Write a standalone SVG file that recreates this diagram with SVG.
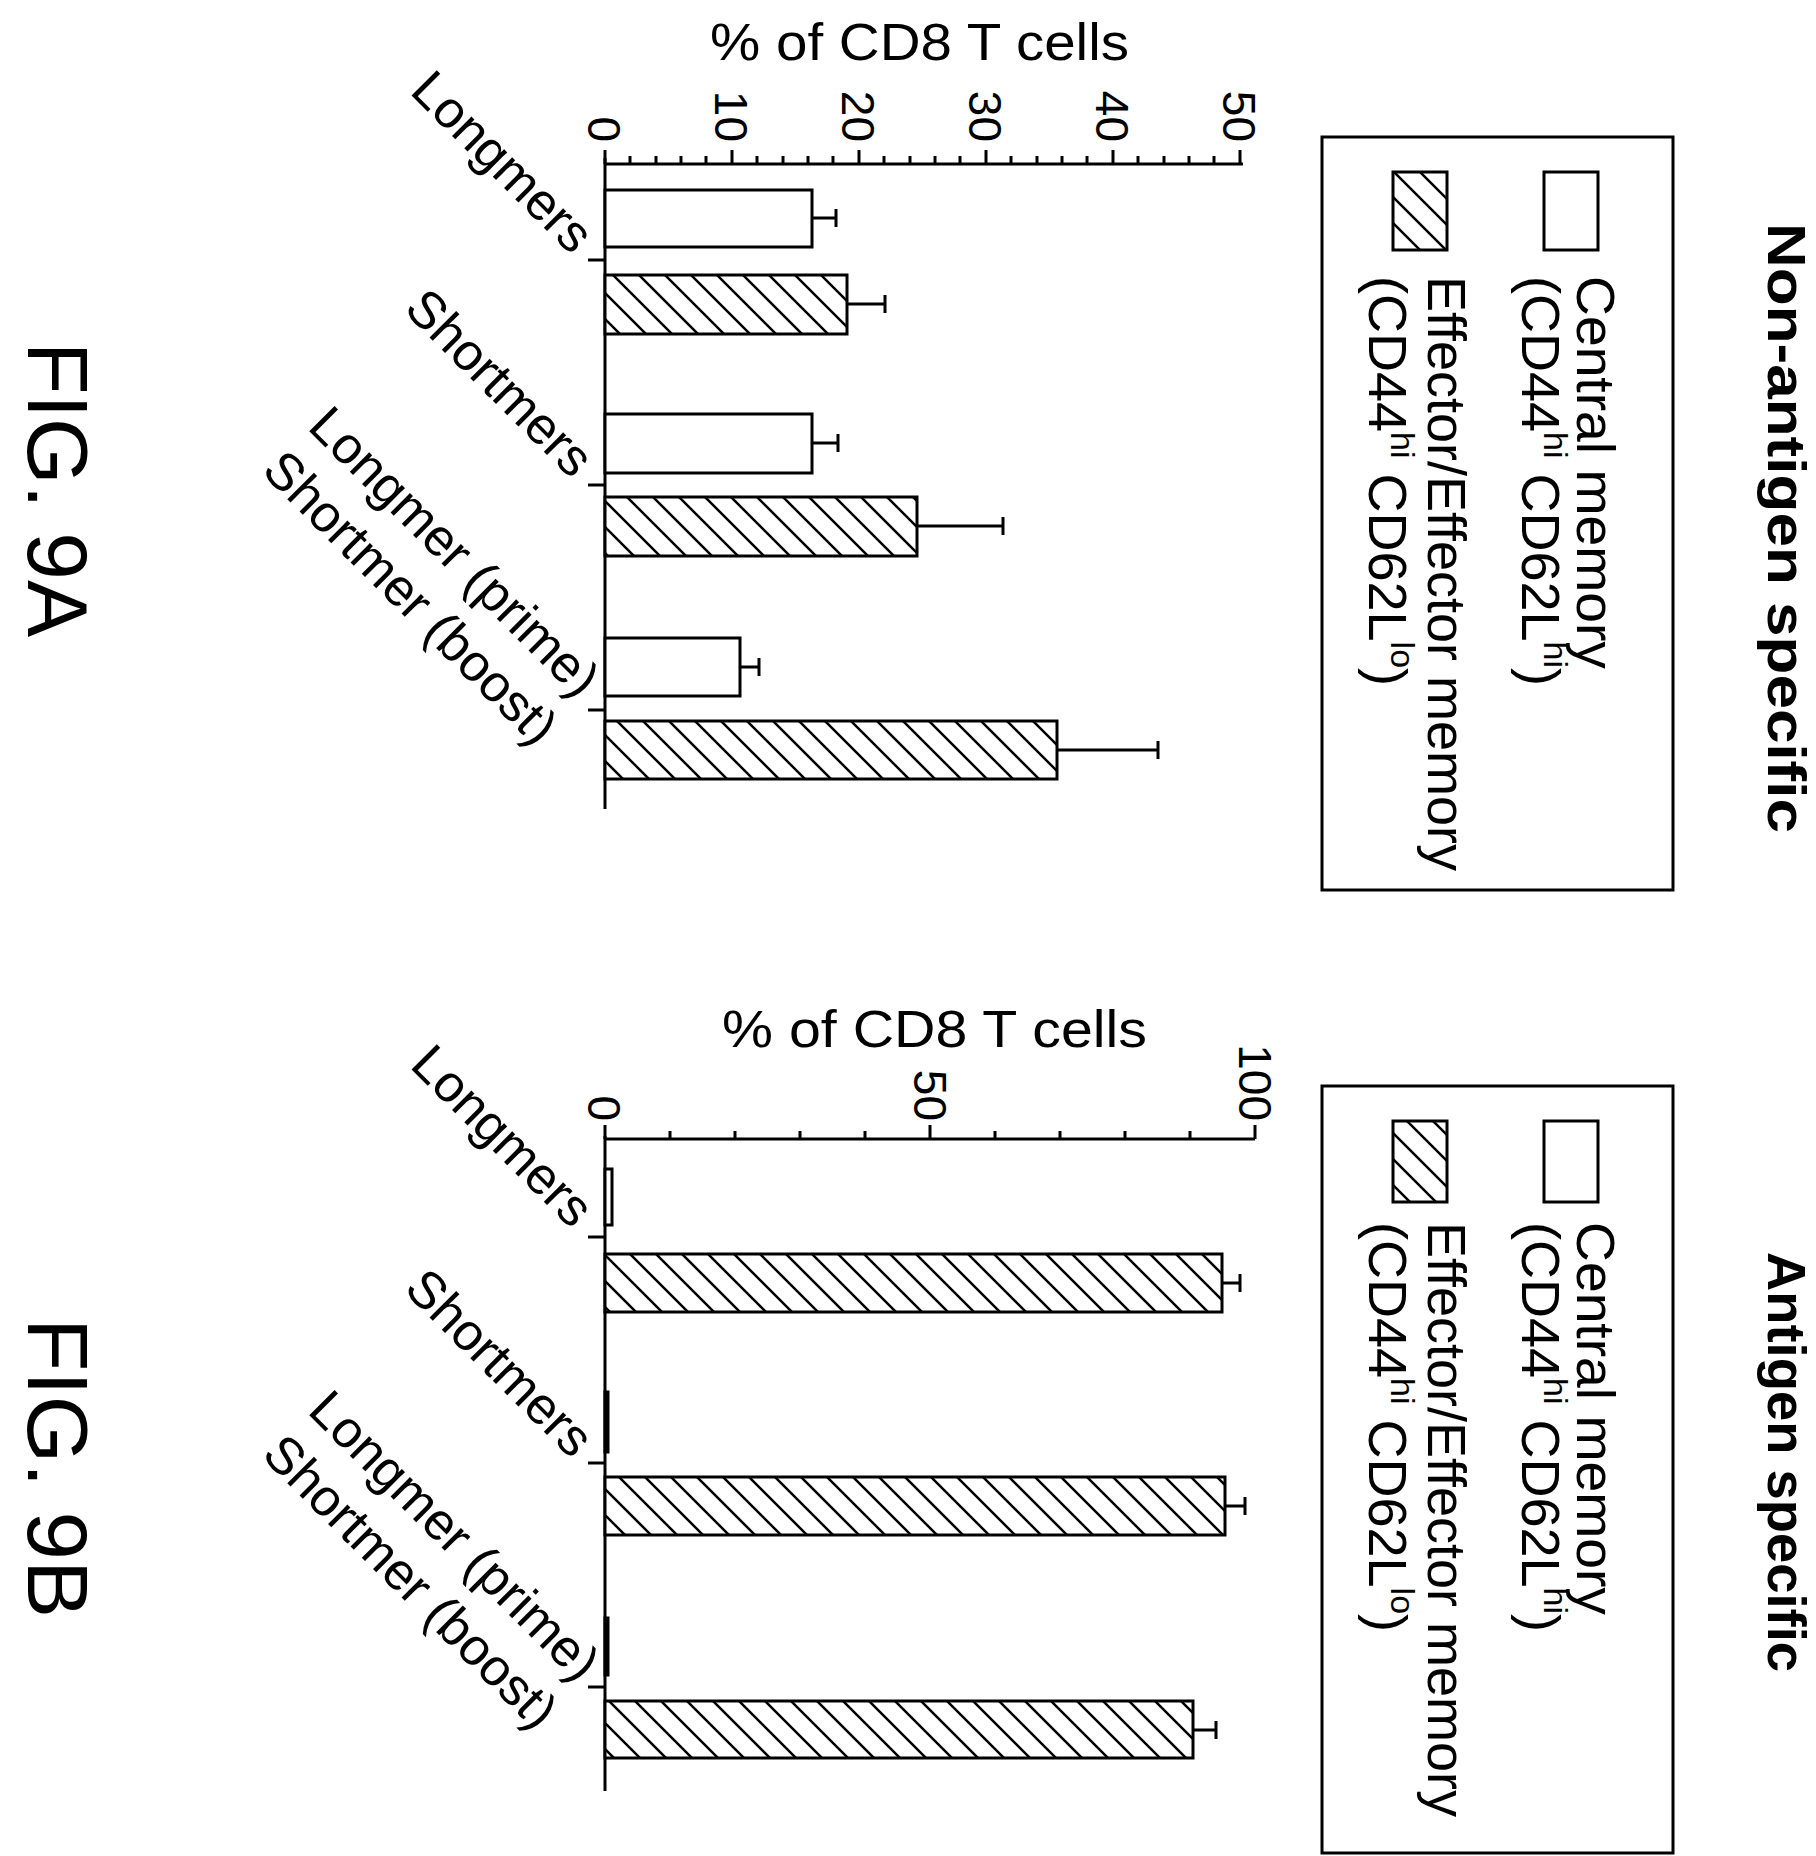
<svg xmlns="http://www.w3.org/2000/svg" width="1816" height="1856" viewBox="0 0 1816 1856">
<style>
text{font-family:"Liberation Sans",Arial,sans-serif;fill:#000}
.ax{stroke:#000;stroke-width:3;fill:none}
.bar{stroke:#000;stroke-width:3;fill:#fff}
.hb{stroke:#000;stroke-width:3;fill:url(#hatch)}
.lg{font-size:54px}
.tk{font-size:46px}
.cat{font-size:52px}
</style>
<defs>
<pattern id="hatch" patternUnits="userSpaceOnUse" width="26" height="26">
<rect width="26" height="26" fill="#fff"/>
<path d="M0,0L26,26M-13,13L13,39M13,-13L39,13" stroke="#000" stroke-width="2.5"/>
</pattern>
</defs>
<g id="fig9A">
<text x="710" y="60" font-size="52" textLength="419" lengthAdjust="spacingAndGlyphs">% of CD8 T cells</text>
<g id="axesA" class="ax">
<path d="M605,164H1243M605,158V809"/>
<path d="M605,164v-14M732,164v-14M859,164v-14M986,164v-14M1113,164v-14M1240,164v-14"/>
<path d="M630,164v-8M656,164v-8M681,164v-8M706,164v-8M757,164v-8M783,164v-8M808,164v-8M833,164v-8M884,164v-8M910,164v-8M935,164v-8M960,164v-8M1011,164v-8M1037,164v-8M1062,164v-8M1087,164v-8M1138,164v-8M1164,164v-8M1189,164v-8M1214,164v-8"/>
<path d="M588,260H605M588,485H605M588,710H605"/>
</g>
<g class="tk" text-anchor="end">
<text transform="translate(588,142) rotate(90)">0</text>
<text transform="translate(715,142) rotate(90)">10</text>
<text transform="translate(842,142) rotate(90)">20</text>
<text transform="translate(969,142) rotate(90)">30</text>
<text transform="translate(1096,142) rotate(90)">40</text>
<text transform="translate(1223,142) rotate(90)">50</text>
</g>
<g id="barsA">
<rect class="bar" x="605" y="190" width="207" height="57"/>
<path class="ax" d="M812,218H836M836,209V227"/>
<rect class="hb" x="605" y="275" width="242" height="59"/>
<path class="ax" d="M847,304H885M885,295V313"/>
<rect class="bar" x="605" y="414" width="207" height="59"/>
<path class="ax" d="M812,443H838M838,434V452"/>
<rect class="hb" x="605" y="497" width="312" height="59"/>
<path class="ax" d="M917,526H1003M1003,517V535"/>
<rect class="bar" x="605" y="638" width="135" height="58"/>
<path class="ax" d="M740,667H759M759,658V676"/>
<rect class="hb" x="605" y="721" width="452" height="58"/>
<path class="ax" d="M1057,750H1158M1158,741V759"/>
</g>
<g class="cat" text-anchor="end">
<text transform="translate(572,256) rotate(45)">Longmers</text>
<text transform="translate(572,480) rotate(45)">Shortmers</text>
<text transform="translate(578,700) rotate(45)">Longmer (prime)</text>
<text transform="translate(536,748) rotate(45)">Shortmer (boost)</text>
</g>
<g id="legendA">
<rect class="ax" x="1322" y="137" width="351" height="753"/>
<rect class="bar" x="1544" y="172" width="54" height="78"/>
<rect class="hb" x="1393" y="172" width="54" height="78"/>
<g class="lg">
<text transform="translate(1577,276) rotate(90)" textLength="393" lengthAdjust="spacingAndGlyphs">Central memory</text>
<text transform="translate(1522,276) rotate(90)">(CD44<tspan font-size="34" dy="-22">hi</tspan><tspan dy="22"> CD62L</tspan><tspan font-size="34" dy="-22">hi</tspan><tspan dy="22">)</tspan></text>
<text transform="translate(1428,276) rotate(90)" textLength="595" lengthAdjust="spacingAndGlyphs">Effector/Effector memory</text>
<text transform="translate(1369,276) rotate(90)">(CD44<tspan font-size="34" dy="-22">hi</tspan><tspan dy="22"> CD62L</tspan><tspan font-size="34" dy="-22">lo</tspan><tspan dy="22">)</tspan></text>
</g>
</g>
<text transform="translate(1768,223) rotate(90)" font-size="54" font-weight="bold" textLength="610" lengthAdjust="spacingAndGlyphs">Non-antigen specific</text>
<text transform="translate(28,342) rotate(90)" font-size="86" textLength="295" lengthAdjust="spacingAndGlyphs">FIG. 9A</text>
</g>
<g id="fig9B">
<text x="722" y="1047" font-size="52" textLength="425" lengthAdjust="spacingAndGlyphs">% of CD8 T cells</text>
<g id="axesB" class="ax">
<path d="M605,1139H1255M605,1136V1791"/>
<path d="M605,1139v-14M930,1139v-14M1255,1139v-14"/>
<path d="M670,1139v-8M735,1139v-8M800,1139v-8M865,1139v-8M995,1139v-8M1060,1139v-8M1125,1139v-8M1190,1139v-8"/>
<path d="M588,1237H605M588,1463H605M588,1687H605"/>
</g>
<g class="tk" text-anchor="end">
<text transform="translate(588,1121) rotate(90)">0</text>
<text transform="translate(914,1121) rotate(90)">50</text>
<text transform="translate(1239,1121) rotate(90)">100</text>
</g>
<g id="barsB">
<rect class="bar" x="605" y="1169" width="7" height="56"/>
<rect class="bar" x="605" y="1392" width="3" height="60"/>
<rect class="bar" x="605" y="1618" width="3" height="57"/>
<rect class="hb" x="605" y="1254" width="617" height="58"/>
<path class="ax" d="M1222,1283H1240M1240,1274V1292"/>
<rect class="hb" x="605" y="1477" width="620" height="58"/>
<path class="ax" d="M1225,1506H1245M1245,1497V1515"/>
<rect class="hb" x="605" y="1701" width="588" height="57"/>
<path class="ax" d="M1193,1730H1216M1216,1721V1739"/>
</g>
<g class="cat" text-anchor="end">
<text transform="translate(572,1230) rotate(45)">Longmers</text>
<text transform="translate(572,1460) rotate(45)">Shortmers</text>
<text transform="translate(578,1684) rotate(45)">Longmer (prime)</text>
<text transform="translate(536,1732) rotate(45)">Shortmer (boost)</text>
</g>
<g id="legendB">
<rect class="ax" x="1322" y="1086" width="351" height="767"/>
<rect class="bar" x="1544" y="1121" width="54" height="81"/>
<rect class="hb" x="1393" y="1121" width="54" height="81"/>
<g class="lg">
<text transform="translate(1577,1222) rotate(90)" textLength="393" lengthAdjust="spacingAndGlyphs">Central memory</text>
<text transform="translate(1522,1222) rotate(90)">(CD44<tspan font-size="34" dy="-22">hi</tspan><tspan dy="22"> CD62L</tspan><tspan font-size="34" dy="-22">hi</tspan><tspan dy="22">)</tspan></text>
<text transform="translate(1428,1222) rotate(90)" textLength="595" lengthAdjust="spacingAndGlyphs">Effector/Effector memory</text>
<text transform="translate(1369,1222) rotate(90)">(CD44<tspan font-size="34" dy="-22">hi</tspan><tspan dy="22"> CD62L</tspan><tspan font-size="34" dy="-22">lo</tspan><tspan dy="22">)</tspan></text>
</g>
</g>
<text transform="translate(1768,1252) rotate(90)" font-size="54" font-weight="bold" textLength="420" lengthAdjust="spacingAndGlyphs">Antigen specific</text>
<text transform="translate(28,1318) rotate(90)" font-size="86" textLength="300" lengthAdjust="spacingAndGlyphs">FIG. 9B</text>
</g>
</svg>
